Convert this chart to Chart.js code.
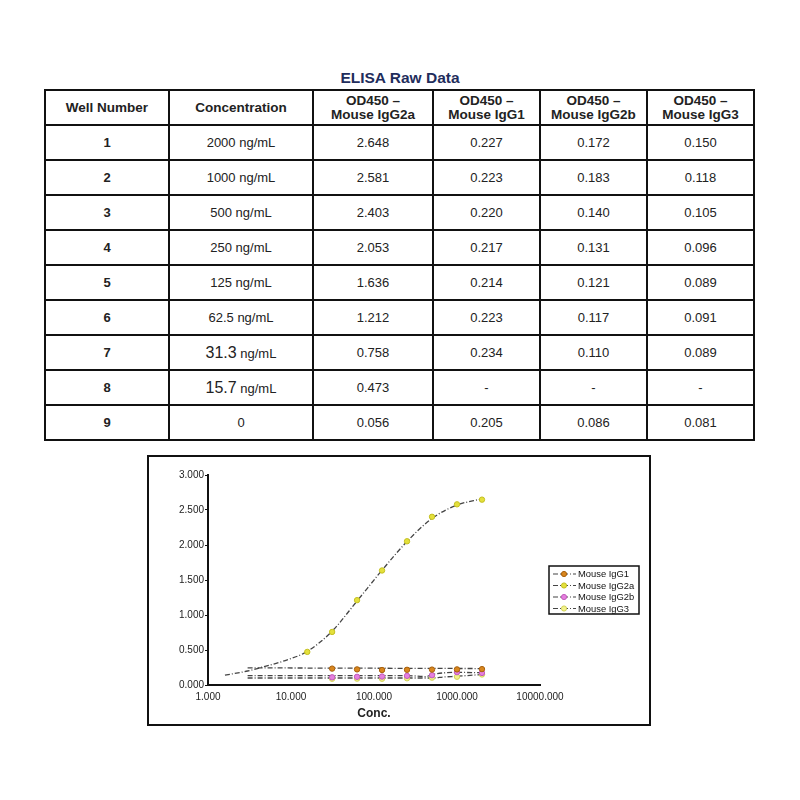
<!DOCTYPE html>
<html><head><meta charset="utf-8">
<script src="https://cdn.jsdelivr.net/npm/chart.js@4.4.1/dist/chart.umd.min.js"></script>
<style>
html,body{margin:0;padding:0;background:#fff;}
body{width:800px;height:800px;position:relative;font-family:"Liberation Sans",Arial,Helvetica,sans-serif;}
#title{position:absolute;left:0;width:800px;top:69px;text-align:center;font-weight:bold;font-size:15.5px;color:#1f2d5c;line-height:17px;}
#tbl{position:absolute;left:44px;top:89px;border-collapse:collapse;table-layout:fixed;border:2px solid #000;}
#tbl td,#tbl th{border:2px solid #111;text-align:center;padding:0;font-size:13px;color:#222;overflow:hidden;}
#tbl th{height:33px;font-weight:bold;line-height:14px;font-size:13.5px;}
#tbl td{height:33px;}
#tbl .big{font-size:16px;}
#chartbox{position:absolute;left:147px;top:455px;width:504px;height:271px;box-sizing:border-box;border:2px solid #111;}
#chartbox canvas{display:block;}
</style>
</head><body>
<div id="title">ELISA Raw Data</div>
<table id="tbl"></table>
<div id="chartbox"><canvas id="c" width="500" height="267"></canvas></div>
<script>
// ---- data ----
const headers = ['Well Number', 'Concentration', 'OD450 –<br>Mouse IgG2a', 'OD450 –<br>Mouse IgG1', 'OD450 –<br>Mouse IgG2b', 'OD450 –<br>Mouse IgG3'];
const wellNumbers = [1, 2, 3, 4, 5, 6, 7, 8, 9];
const concentrations = [2000, 1000, 500, 250, 125, 62.5, 31.3, 15.7, 0];
const odIgG2a = [2.648, 2.581, 2.403, 2.053, 1.636, 1.212, 0.758, 0.473, 0.056];
const odIgG1  = [0.227, 0.223, 0.220, 0.217, 0.214, 0.223, 0.234, null, 0.205];
const odIgG2b = [0.172, 0.183, 0.140, 0.131, 0.121, 0.117, 0.110, null, 0.086];
const odIgG3  = [0.150, 0.118, 0.105, 0.096, 0.089, 0.091, 0.089, null, 0.081];
const bigNumeralRows = [7, 8];

// trend lines
const fitIgG2aX = [1.6, 3, 5, 8, 15.7, 31.3, 62.5, 125, 250, 500, 1000, 2000];
const fitIgG2aY = [0.14, 0.20, 0.27, 0.34, 0.48, 0.77, 1.20, 1.64, 2.05, 2.38, 2.57, 2.66];
const fitIgG1X = [3, 2000];
const fitIgG1Y = [0.245, 0.235];
const fitIgG2bX = [3, 250, 420, 500, 1000, 2000];
const fitIgG2bY = [0.135, 0.135, 0.12, 0.15, 0.18, 0.175];
const fitIgG3X = [3, 500, 700, 1000, 2000];
const fitIgG3Y = [0.10, 0.10, 0.115, 0.125, 0.15];

const xTicks = [1, 10, 100, 1000, 10000];
const yTicks = [0, 0.5, 1, 1.5, 2, 2.5, 3];

const seriesNames = ['Mouse IgG1', 'Mouse IgG2a', 'Mouse IgG2b', 'Mouse IgG3'];
const seriesFill = ['#d8861e', '#e4e03c', '#e57fde', '#f2f28a'];
const seriesEdge = ['#a8600c', '#c4c020', '#c25cbc', '#d2d25a'];

// ---- table ----
const colWidths = [124, 144, 120, 107, 107, 107];
const tbl = document.getElementById('tbl');
let html = '<colgroup>' + colWidths.map(w => '<col style="width:' + w + 'px">').join('') + '</colgroup>';
html += '<tr>' + headers.map(h => '<th>' + h + '</th>').join('') + '</tr>';
const fmt = v => v === null ? '-' : v.toFixed(3);
for (let i = 0; i < wellNumbers.length; i++) {
  const c = concentrations[i];
  let cText;
  if (c === 0) cText = '0';
  else if (bigNumeralRows.includes(wellNumbers[i])) cText = '<span class="big">' + c + '</span> ng/mL';
  else cText = c + ' ng/mL';
  html += '<tr><td><b>' + wellNumbers[i] + '</b></td><td>' + cText + '</td><td>' + fmt(odIgG2a[i]) + '</td><td>' + fmt(odIgG1[i]) + '</td><td>' + fmt(odIgG2b[i]) + '</td><td>' + fmt(odIgG3[i]) + '</td></tr>';
}
tbl.innerHTML = html;

// ---- chart ----
function pts(xs, ys) {
  const out = [];
  for (let i = 0; i < xs.length; i++) if (xs[i] > 0 && ys[i] !== null) out.push({x: xs[i], y: ys[i]});
  return out;
}
const seriesValues = [odIgG1, odIgG2a, odIgG2b, odIgG3];
const pointSets = seriesValues.map((vals, k) => ({
  label: seriesNames[k],
  data: pts(concentrations, vals),
  showLine: false,
  pointRadius: 2.7,
  pointHoverRadius: 2.7,
  pointBackgroundColor: seriesFill[k],
  pointBorderColor: seriesEdge[k],
  pointBorderWidth: 1,
  borderColor: '#555'
}));
const fitDash = [5, 2, 1, 2];
const fitSets = [
  [fitIgG1X, fitIgG1Y], [fitIgG2aX, fitIgG2aY], [fitIgG2bX, fitIgG2bY], [fitIgG3X, fitIgG3Y]
].map(([xs, ys], k) => ({
  label: 'fit ' + seriesNames[k],
  data: pts(xs, ys),
  showLine: true,
  pointRadius: 0,
  borderColor: '#454545',
  borderWidth: 1.3,
  borderDash: fitDash,
  cubicInterpolationMode: 'monotone',
  fill: false
}));

const boxLegend = {
  id: 'boxLegend',
  afterDraw(chart) {
    const ctx = chart.ctx;
    const x0 = 400, y0 = 109, w = 90, h = 48;
    ctx.save();
    ctx.fillStyle = '#fff';
    ctx.fillRect(x0, y0, w, h);
    ctx.strokeStyle = '#111';
    ctx.lineWidth = 1.5;
    ctx.strokeRect(x0, y0, w, h);
    ctx.font = '9.4px "Liberation Sans", Arial, sans-serif';
    ctx.textBaseline = 'middle';
    for (let k = 0; k < seriesNames.length; k++) {
      const yy = y0 + 8 + k * 11.5;
      ctx.strokeStyle = '#454545';
      ctx.lineWidth = 1.2;
      ctx.setLineDash(fitDash);
      ctx.beginPath(); ctx.moveTo(x0 + 4, yy); ctx.lineTo(x0 + 27, yy); ctx.stroke();
      ctx.setLineDash([]);
      ctx.beginPath(); ctx.arc(x0 + 15, yy, 2.6, 0, Math.PI * 2);
      ctx.fillStyle = seriesFill[k]; ctx.fill();
      ctx.strokeStyle = seriesEdge[k]; ctx.lineWidth = 1; ctx.stroke();
      ctx.fillStyle = '#111';
      ctx.fillText(seriesNames[k], x0 + 29, yy + 0.5);
    }
    ctx.restore();
  }
};

new Chart(document.getElementById('c'), {
  type: 'scatter',
  data: { datasets: pointSets.concat(fitSets) },
  options: {
    responsive: false,
    animation: false,
    devicePixelRatio: 1,
    layout: { padding: { top: 18, right: 109, left: 0, bottom: 0 } },
    plugins: { legend: { display: false }, tooltip: { enabled: false } },
    scales: {
      x: {
        type: 'logarithmic',
        min: 1, max: 10000,
        afterBuildTicks: s => { s.ticks = xTicks.map(v => ({value: v})); },
        afterFit: s => { s.height = 39; },
        grid: { display: false, drawTicks: false },
        border: { display: true, color: '#111', width: 2 },
        ticks: {
          padding: 6,
          color: '#222',
          font: { size: 10, family: '"Liberation Sans", Arial, sans-serif' },
          maxRotation: 0, autoSkip: false,
          callback: v => Number(v).toFixed(3)
        },
        title: {
          display: true, text: 'Conc.', color: '#222',
          font: { size: 12, weight: 'bold', family: '"Liberation Sans", Arial, sans-serif' },
          padding: { top: 0, bottom: 3 }
        }
      },
      y: {
        min: 0, max: 3,
        afterBuildTicks: s => { s.ticks = yTicks.map(v => ({value: v})); },
        afterFit: s => { s.width = 59; },
        grid: { display: true, drawOnChartArea: false, drawTicks: true, tickLength: 3, color: '#111', lineWidth: 1 },
        border: { display: true, color: '#111', width: 2 },
        ticks: {
          padding: 1,
          color: '#222',
          font: { size: 10, family: '"Liberation Sans", Arial, sans-serif' },
          callback: v => Number(v).toFixed(3)
        }
      }
    }
  },
  plugins: [boxLegend]
});
</script>
</body></html>
